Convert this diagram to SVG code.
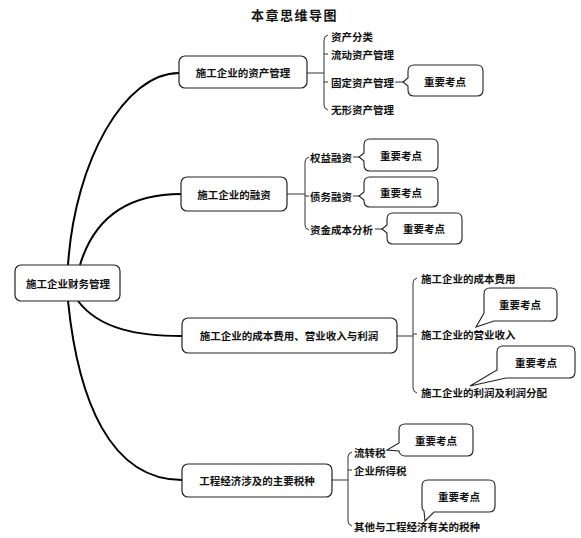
<svg xmlns="http://www.w3.org/2000/svg" width="581" height="538" viewBox="0 0 581 538">
<style>
text{font-family:"Noto Sans CJK SC","Noto Sans",sans-serif;font-weight:700;font-size:10.5px;fill:#111;dominant-baseline:central}
.title{font-size:13px;letter-spacing:1.5px}
.mid{text-anchor:middle}
.box{fill:#fff;stroke:#222;stroke-width:1.2}
.curve{fill:none;stroke:#000;stroke-width:2}
.br{fill:none;stroke:#333;stroke-width:1}
.co{fill:#fff;stroke:#222;stroke-width:1.1}
</style>
<rect width="581" height="538" fill="#fff"/>
<text class="title" x="251" y="14">本章思维导图</text>

<g id="connectors">
  <path class="curve" d="M68,265 C75,160 125,73 179,73"/>
  <path class="curve" d="M80,265 C95,215 130,194 181,194"/>
  <path class="curve" d="M78,301 C100,330 140,336 182,336"/>
  <path class="curve" d="M68,301 C78,400 110,480 182,480"/>
  <!-- asset bracket -->
  <path class="br" d="M307,73 H324 M328,35 Q324,36 324,40 V105 Q324,109 328,110 M324,54 H328 M324,82 H328"/>
  <path class="br" d="M395,82 H403" stroke-width="1.5"/>
  <!-- finance bracket -->
  <path class="br" d="M287,194 H305 M309,157 Q305,158 305,162 V225 Q305,229 309,230 M305,196 H309"/>
  <path class="br" d="M353,157 H359 M353,196 H359 M375,229 H382" stroke-width="1.5"/>
  <!-- cost bracket -->
  <path class="br" d="M397,336 H413 M417,278 Q413,279 413,283 V388 Q413,392 417,393 M413,334 H417"/>
  <!-- tax bracket -->
  <path class="br" d="M332,480 H348 M352,452 Q348,453 348,457 V521 Q348,525 352,526 M348,470 H352"/>
</g>

<g id="root">
  <rect class="box" x="15" y="265" width="105" height="36" rx="6"/>
  <text class="mid" x="68" y="283">施工企业财务管理</text>
</g>

<g id="asset">
  <rect class="box" x="179" y="56" width="128" height="32" rx="6"/>
  <text class="mid" x="243" y="72">施工企业的资产管理</text>
  <text x="331" y="36">资产分类</text>
  <text x="331" y="54">流动资产管理</text>
  <text x="331" y="82">固定资产管理</text>
  <text x="331" y="109">无形资产管理</text>
  <path class="co" d="M414,65 H477 Q483,65 483,71 V90 Q483,96 477,96 H414 Q408,96 408,90 V86 L403,82 L408,78 V71 Q408,65 414,65 Z"/>
  <text class="mid" x="445" y="81">重要考点</text>
</g>

<g id="finance">
  <rect class="box" x="181" y="177" width="106" height="34" rx="6"/>
  <text class="mid" x="234" y="194">施工企业的融资</text>
  <text x="310" y="157">权益融资</text>
  <text x="310" y="196">债务融资</text>
  <text x="310" y="229">资金成本分析</text>
  <path class="co" d="M370,139 H432 Q438,139 438,145 V165 Q438,171 432,171 H370 Q364,171 364,165 V161 L359,157 L364,153 V145 Q364,139 370,139 Z"/>
  <text class="mid" x="401" y="155">重要考点</text>
  <path class="co" d="M370,177 H432 Q438,177 438,183 V201 Q438,207 432,207 H370 Q364,207 364,201 V200 L359,196 L364,192 V183 Q364,177 370,177 Z"/>
  <text class="mid" x="401" y="192">重要考点</text>
  <path class="co" d="M393,213 H456 Q462,213 462,219 V238 Q462,244 456,244 H393 Q387,244 387,238 V233 L382,229 L387,225 V219 Q387,213 393,213 Z"/>
  <text class="mid" x="424" y="228">重要考点</text>
</g>

<g id="cost">
  <rect class="box" x="182" y="318" width="215" height="35" rx="6"/>
  <text class="mid" x="289" y="335">施工企业的成本费用、营业收入与利润</text>
  <text x="421" y="278">施工企业的成本费用</text>
  <text x="421" y="334">施工企业的营业收入</text>
  <text x="421" y="392">施工企业的利润及利润分配</text>
  <path class="co" d="M490,288 H551 Q557,288 557,294 V315 Q557,321 551,321 H494 L476,327 L484,313 V294 Q484,288 490,288 Z"/>
  <text class="mid" x="520" y="304">重要考点</text>
  <path class="co" d="M503,346 H569 Q575,346 575,352 V372 Q575,378 569,378 H506 L470,386 L497,370 V352 Q497,346 503,346 Z"/>
  <text class="mid" x="536" y="362">重要考点</text>
</g>

<g id="tax">
  <rect class="box" x="182" y="464" width="150" height="33" rx="6"/>
  <text class="mid" x="257" y="480">工程经济涉及的主要税种</text>
  <text x="354" y="452">流转税</text>
  <text x="354" y="470">企业所得税</text>
  <text x="354" y="526">其他与工程经济有关的税种</text>
  <path class="co" d="M405,424 H467 Q473,424 473,430 V450 Q473,456 467,456 H405 Q400,456 399,451 L387,450 L399,443 V430 Q399,424 405,424 Z"/>
  <text class="mid" x="436" y="440">重要考点</text>
  <path class="co" d="M428,480 H489 Q495,480 495,486 V506 Q495,512 489,512 H434 L425,521 L424,511 Q422,510 422,506 V486 Q422,480 428,480 Z"/>
  <text class="mid" x="459" y="496">重要考点</text>
</g>
</svg>
